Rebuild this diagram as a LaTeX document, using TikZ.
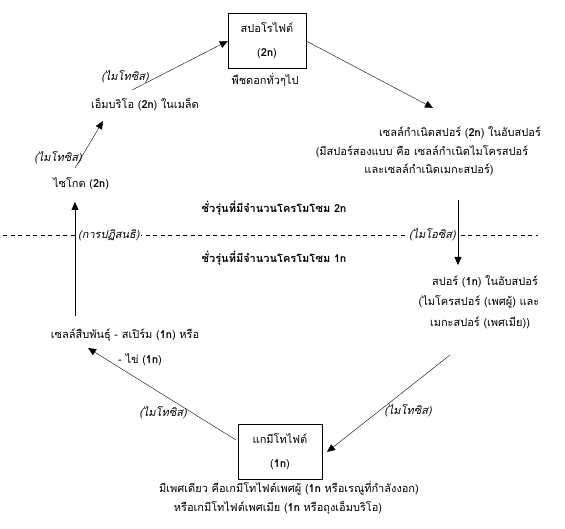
\documentclass[tikz,border=0pt]{standalone}
\usepackage{fontspec}
\setmainfont[Script=Thai]{Loma}
\usetikzlibrary{arrows.meta}
\newcommand{\thsize}{\fontsize{11}{13}\selectfont}
\tikzset{
    box/.style={draw, minimum width=78pt, minimum height=55pt, align=center, inner sep=2pt, font=\thsize},
    txt/.style={inner sep=1pt, font=\thsize},
    proc/.style={inner sep=1pt, font=\thsize\itshape},
    gen/.style={inner sep=1pt, font=\thsize\bfseries},
    edge/.style={thin},
    dedge/.style = {-{Triangle[length=8pt,width=7pt]},thin}
}

\begin{document}
\begin{tikzpicture}[x=1pt,y=-1pt]
\useasboundingbox (0,0) rectangle (565,529);

\node[box] (spo) at (267,41) {สปอโรไฟต์\\[11pt](\textbf{2n})};
\node[txt] (pdk) at (265,80) {พืชดอกทั่วๆไป};
\node[txt] (emb) at (145,105) {เอ็มบริโอ (\textbf{2n}) ในเมล็ด};
\node[txt] (zyg) at (81,184) {ไซโกต (\textbf{2n})};
\node[txt] (gsp1) at (460,133) {เซลล์กำเนิดสปอร์ (\textbf{2n}) ในอับสปอร์};
\node[txt] (gsp2) at (422,152) {(มีสปอร์สองแบบ คือ เซลล์กำเนิดไมโครสปอร์};
\node[txt] (gsp3) at (429,170) {และเซลล์กำเนิดเมกะสปอร์)};
\node[txt] (spr1) at (485,282) {สปอร์ (\textbf{1n}) ในอับสปอร์};
\node[txt] (spr2) at (479,302) {(ไมโครสปอร์ (เพศผู้) และ};
\node[txt] (spr3) at (480,323) {เมกะสปอร์ (เพศเมีย))};
\node[txt] (sex1) at (125,335) {เซลล์สืบพันธุ์ - สเปิร์ม (\textbf{1n}) หรือ};
\node[txt] (sex2) at (140,360) {- ไข่ (\textbf{1n})};
\node[box, minimum width=84pt] (gmt) at (280,452) {แกมีโทไฟต์\\[11pt](\textbf{1n})};
\node[txt] (gmt1) at (289,488) {มีเพศเดียว คือเกมีโทไฟต์เพศผู้ (\textbf{1n} หรือเรณูที่กำลังงอก)};
\node[txt] (gmt2) at (278,508) {หรือเกมีโทไฟต์เพศเมีย (\textbf{1n} หรือถุงเอ็มบริโอ)};

% dashed border between generations
\coordinate (dl) at (3,235);
\coordinate (dr) at (538,235);
\draw[edge, dashed, dash pattern=on 4pt off 3.5pt] (dl) -- (dr);
\node[gen] (g2n) at (274,208) {ชั่วรุ่นที่มีจำนวนโครโมโซม 2n};
\node[gen] (g1n) at (274,258) {ชั่วรุ่นที่มีจำนวนโครโมโซม 1n};

\coordinate (a1) at (132,90);
\coordinate (a2) at (433,108);
\coordinate (a3) at (458,200);
\coordinate (a4) at (458,265);
\coordinate (a5) at (450,355);
\coordinate (a6) at (327,452);
\coordinate (a7) at (236,440);
\coordinate (a8) at (88,348);
\coordinate (a9) at (75,316);
\coordinate (a10) at (75,202);
\coordinate (a11) at (75,168);
\coordinate (a12) at (103,121);

\draw[dedge] (a1) -- (spo.west);
\draw[dedge] (spo.east) -- (a2);
\draw[dedge] (a3) -- (a4);
\draw[dedge] (a5) -- (a6);
\draw[dedge] (a7) -- (a8);
\draw[dedge] (a9) -- (a10);
\draw[dedge] (a11) -- (a12);

\node[proc] (m1) at (125,77) {(ไมโทซิส)};
\node[proc] (m2) at (58,158) {(ไมโทซิส)};
\node[proc, fill=white, anchor=west] (fert) at (77,235) {(การปฏิสนธิ)};
\node[proc, fill=white, anchor=east] (mei) at (457,235) {(ไมโอซิส)};
\node[proc] (m3) at (163,413) {(ไมโทซิส)};
\node[proc] (m4) at (408,411) {(ไมโทซิส)};
\end{tikzpicture}
\end{document}
